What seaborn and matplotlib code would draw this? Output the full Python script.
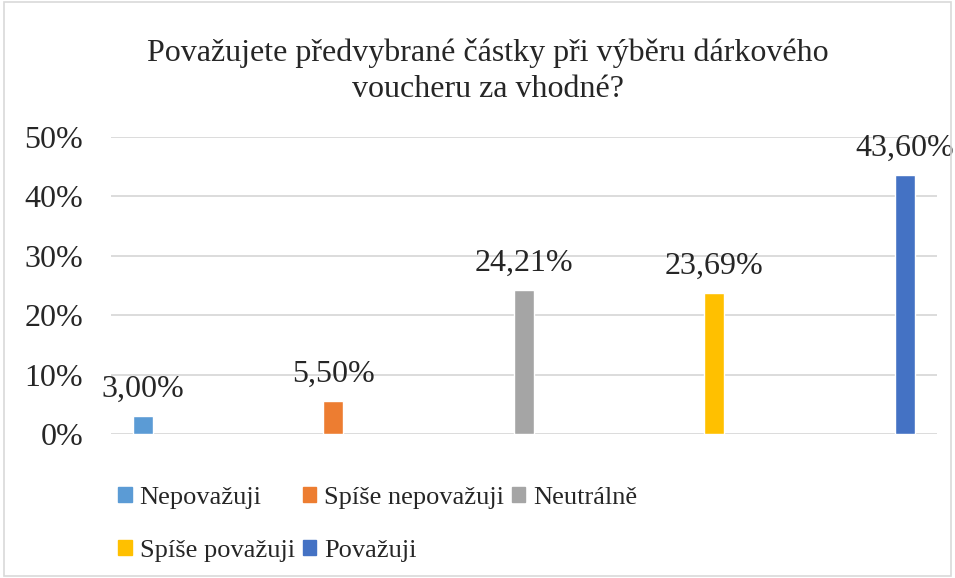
import matplotlib
matplotlib.use("Agg")
import matplotlib.pyplot as plt
import seaborn as sns
import pandas as pd
from matplotlib.patches import Rectangle

# data
categories = ["Nepovažuji", "Spíše nepovažuji", "Neutrálně", "Spíše považuji", "Považuji"]
shares = [0.0300, 0.0550, 0.2421, 0.2369, 0.4360]
labels = ["3,00%", "5,50%", "24,21%", "23,69%", "43,60%"]
colors = ["#5B9BD5", "#ED7D31", "#A5A5A5", "#FFC000", "#4472C4"]
yticks = [0, 0.1, 0.2, 0.3, 0.4, 0.5]
ytick_labels = ["0%", "10%", "20%", "30%", "40%", "50%"]
title = "Považujete předvybrané částky při výběru dárkového\nvoucheru za vhodné?"

sns.set_theme(style="white")
plt.rcParams["font.family"] = ["Liberation Serif", "DejaVu Serif"]

df = pd.DataFrame({"cat": categories, "share": shares})

fig = plt.figure(figsize=(9.55, 5.78), dpi=100)
ax = fig.add_axes([0.116, 0.249, 0.865, 0.514])

sns.barplot(data=df, x="cat", y="share", hue="cat", palette=colors,
            width=0.105, dodge=False, legend=False, ax=ax, saturation=1)

ax.set_ylim(0, 0.5)
ax.set_xlim(-0.168, 4.168)
ax.set_yticks(yticks)
ax.set_yticklabels(ytick_labels, fontsize=23)
ax.set_xticks([])
ax.set_xlabel("")
ax.set_ylabel("")
ax.tick_params(axis="y", length=0, pad=20)
ax.grid(axis="y", color="#D9D9D9", linewidth=1.3)
ax.set_axisbelow(True)
for s in ax.spines.values():
    s.set_visible(False)

for i, (v, lab) in enumerate(zip(shares, labels)):
    ax.annotate(lab, (i, v), xytext=(0, 9), textcoords="offset points",
                ha="center", va="bottom", fontsize=23)

fig.text(0.511, 0.877, title, ha="center", va="center", fontsize=23,
         linespacing=1.35)

# legend: rows [0,1,2] and [3,4] -> column-major ordering
handles = [Rectangle((0, 0), 1, 1, color=c) for c in colors]
order = [0, 3, 1, 4, 2]
fig.legend([handles[i] for i in order], [categories[i] for i in order],
           ncol=3, loc="center left", bbox_to_anchor=(0.113, 0.0926),
           borderaxespad=0, frameon=False, fontsize=19,
           handlelength=0.5, handleheight=0.5,
           handletextpad=0.3, columnspacing=0.3, labelspacing=1.15)

fig.add_artist(Rectangle((0.004, 0.004), 0.992, 0.992, transform=fig.transFigure,
                         fill=False, edgecolor="#D9D9D9", linewidth=1.2))

fig.savefig("out.png", dpi=100)
